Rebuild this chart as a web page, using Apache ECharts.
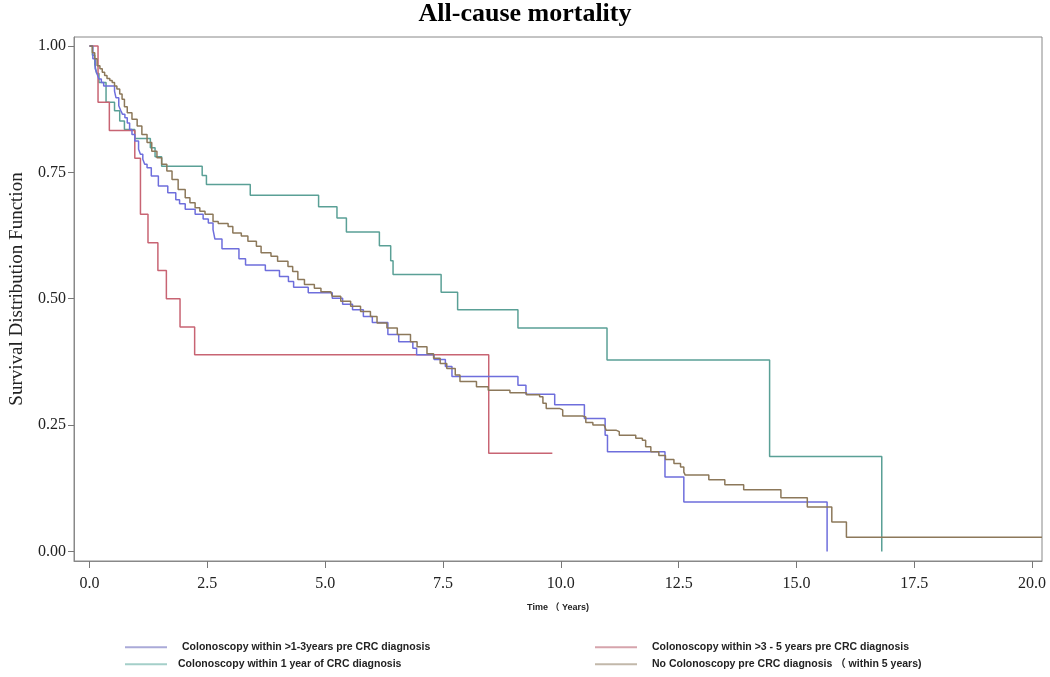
<!DOCTYPE html>
<html>
<head>
<meta charset="utf-8">
<script src="https://cdn.jsdelivr.net/npm/echarts@6/dist/echarts.min.js"></script>
<style>html,body{margin:0;padding:0;background:#fff;}#c{width:1050px;height:677px;}</style>
</head>
<body>
<div id="c"></div>
<script>
// ---- data (time in years, survival probability) ----
const seriesNames = [
  'Colonoscopy within >1-3years pre CRC diagnosis',
  'Colonoscopy within >3 - 5 years pre CRC diagnosis',
  'Colonoscopy within 1 year of CRC diagnosis',
  'No Colonoscopy pre CRC diagnosis （ within 5 years)'
];
const xTicks = [0, 2.5, 5, 7.5, 10, 12.5, 15, 17.5, 20];
const yTicks = [0, 0.25, 0.5, 0.75, 1];

const blueT = [0,0.07,0.12,0.16,0.20,0.25,0.30,0.53,0.56,0.62,0.66,0.70,0.75,0.80,0.85,0.90,0.96,1.04,1.08,1.13,1.17,1.22,1.31,1.46,1.66,1.83,1.91,2.03,2.24,2.41,2.52,2.62,2.66,2.81,3.17,3.31,3.73,4.03,4.22,4.33,4.64,5.15,5.37,5.58,5.81,6.00,6.33,6.56,6.86,6.94,7.31,7.55,7.69,9.09,9.26,9.87,10.50,10.94,10.99,12.21,12.61,15.65];
const blueS = [1,0.975,0.955,0.945,0.935,0.928,0.921,0.911,0.898,0.882,0.873,0.865,0.858,0.848,0.835,0.825,0.812,0.796,0.786,0.776,0.766,0.759,0.743,0.723,0.710,0.696,0.688,0.677,0.667,0.658,0.650,0.637,0.618,0.599,0.579,0.567,0.556,0.544,0.534,0.523,0.512,0.501,0.489,0.478,0.465,0.453,0.429,0.415,0.402,0.389,0.380,0.366,0.346,0.329,0.311,0.290,0.263,0.230,0.197,0.147,0.098,0];

const redT = [0,0.18,0.42,0.96,1.08,1.24,1.45,1.63,1.92,2.23,8.47,9.82];
const redS = [1,0.889,0.833,0.778,0.667,0.611,0.556,0.5,0.444,0.389,0.194,0.194];

const tealT = [0,0.06,0.11,0.15,0.20,0.35,0.53,0.64,0.74,0.96,1.29,1.39,1.53,2.39,2.48,3.41,4.86,5.25,5.45,6.15,6.39,6.44,7.46,7.81,9.09,10.98,14.43,16.81];
const tealS = [1,0.982,0.964,0.946,0.928,0.889,0.872,0.852,0.835,0.817,0.799,0.781,0.762,0.744,0.726,0.705,0.682,0.660,0.632,0.605,0.575,0.548,0.513,0.478,0.442,0.379,0.188,0];

const brownT = [0,0.06,0.11,0.16,0.22,0.27,0.32,0.37,0.43,0.48,0.53,0.58,0.64,0.69,0.74,0.80,0.90,1.01,1.11,1.22,1.32,1.43,1.53,1.64,1.75,1.88,2.03,2.13,2.24,2.34,2.45,2.62,2.73,2.94,3.04,3.22,3.36,3.54,3.64,3.85,3.99,4.21,4.31,4.42,4.56,4.77,4.91,5.12,5.15,5.33,5.54,5.75,5.96,6.10,6.31,6.53,6.81,6.95,7.16,7.30,7.44,7.58,7.76,7.86,8.21,8.46,8.92,9.27,9.55,9.62,9.69,9.97,10.04,10.46,10.53,10.68,10.92,10.96,11.17,11.24,11.59,11.73,11.80,11.91,12.08,12.22,12.40,12.54,12.61,12.64,13.14,13.48,13.88,14.67,15.23,15.75,16.06,20.21];
const brownS = [1,0.987,0.975,0.961,0.955,0.948,0.942,0.936,0.932,0.928,0.921,0.915,0.905,0.895,0.880,0.868,0.855,0.842,0.825,0.809,0.792,0.779,0.766,0.753,0.736,0.716,0.700,0.690,0.680,0.673,0.667,0.653,0.649,0.643,0.630,0.624,0.614,0.604,0.591,0.584,0.574,0.564,0.554,0.538,0.528,0.521,0.514,0.511,0.505,0.495,0.485,0.475,0.465,0.452,0.442,0.429,0.415,0.405,0.391,0.382,0.372,0.362,0.349,0.336,0.326,0.319,0.314,0.310,0.306,0.293,0.283,0.280,0.268,0.266,0.255,0.250,0.247,0.240,0.237,0.230,0.224,0.220,0.207,0.197,0.190,0.182,0.174,0.167,0.157,0.151,0.142,0.132,0.122,0.106,0.088,0.058,0.028,0.028];

const lineColors = ['#6e6edc', '#c86473', '#5aa096', '#8c785a'];
const legendColors = ['#aaaad8', '#d6a4ac', '#a4cfc9', '#c2b8aa'];

function zip(t, s) { return t.map((v, i) => [v, s[i]]); }

const chart = echarts.init(document.getElementById('c'), null, {renderer: 'canvas'});
const serif = 'Liberation Serif, Times New Roman, serif';
const sans = 'Liberation Sans, Arial, Noto Sans CJK SC, sans-serif';

const seriesData = [zip(blueT, blueS), zip(redT, redS), zip(tealT, tealS), zip(brownT, brownS)];

const legendPos = [
  {left: 125, top: 642, pad: 10},
  {left: 595, top: 642, pad: 10},
  {left: 125, top: 659, pad: 6},
  {left: 595, top: 659, pad: 10}
];

chart.setOption({
  animation: false,
  backgroundColor: '#fff',
  title: {
    text: 'All-cause mortality',
    left: 'center',
    top: 1,
    padding: 0,
    textStyle: {fontFamily: serif, fontWeight: 'bold', fontSize: 26, color: '#000'}
  },
  legend: seriesNames.map((n, i) => ({
    data: [n],
    left: legendPos[i].left,
    top: legendPos[i].top,
    padding: 0,
    icon: 'rect',
    itemWidth: 42,
    itemHeight: 2,
    itemStyle: {color: legendColors[i]},
    lineStyle: {color: legendColors[i]},
    selectedMode: false,
    textStyle: {fontFamily: sans, fontSize: 10.5, fontWeight: 'bold', color: '#222', padding: [0, 0, 0, legendPos[i].pad]}
  })),
  grid: {
    left: 68, right: 8, top: 37, bottom: 116,
    show: true, borderColor: '#888', borderWidth: 1, backgroundColor: 'transparent'
  },
  xAxis: {
    type: 'value', min: -0.33, max: 20.21,
    axisLine: {show: true, onZero: false, lineStyle: {color: '#888', width: 1}},
    axisTick: {show: true, length: 7, customValues: xTicks, lineStyle: {color: '#777'}},
    axisLabel: {customValues: xTicks, formatter: v => v.toFixed(1), margin: 15, fontFamily: serif, fontSize: 16, color: '#222'},
    splitLine: {show: false},
    name: 'Time （ Years)', nameLocation: 'middle', nameGap: 42,
    nameTextStyle: {fontFamily: sans, fontSize: 9, fontWeight: 'bold', color: '#222'}
  },
  yAxis: {
    type: 'value', min: -0.019, max: 1.018,
    axisLine: {show: true, onZero: false, lineStyle: {color: '#888', width: 1}},
    axisTick: {show: true, length: 6, customValues: yTicks, lineStyle: {color: '#777'}},
    axisLabel: {customValues: yTicks, formatter: v => v.toFixed(2), margin: 8, fontFamily: serif, fontSize: 16, color: '#222'},
    splitLine: {show: false},
    name: 'Survival Distribution Function', nameLocation: 'middle', nameGap: 47,
    nameTextStyle: {fontFamily: serif, fontSize: 19, color: '#222', padding: [0, 0, 0, 20]}
  },
  series: seriesNames.map((n, i) => ({
    name: n,
    type: 'line',
    step: 'end',
    showSymbol: false,
    symbol: 'none',
    data: seriesData[i],
    color: lineColors[i],
    lineStyle: {color: lineColors[i], width: 1.5},
    z: [3, 2, 1, 4][i]
  }))
});
</script>
</body>
</html>
